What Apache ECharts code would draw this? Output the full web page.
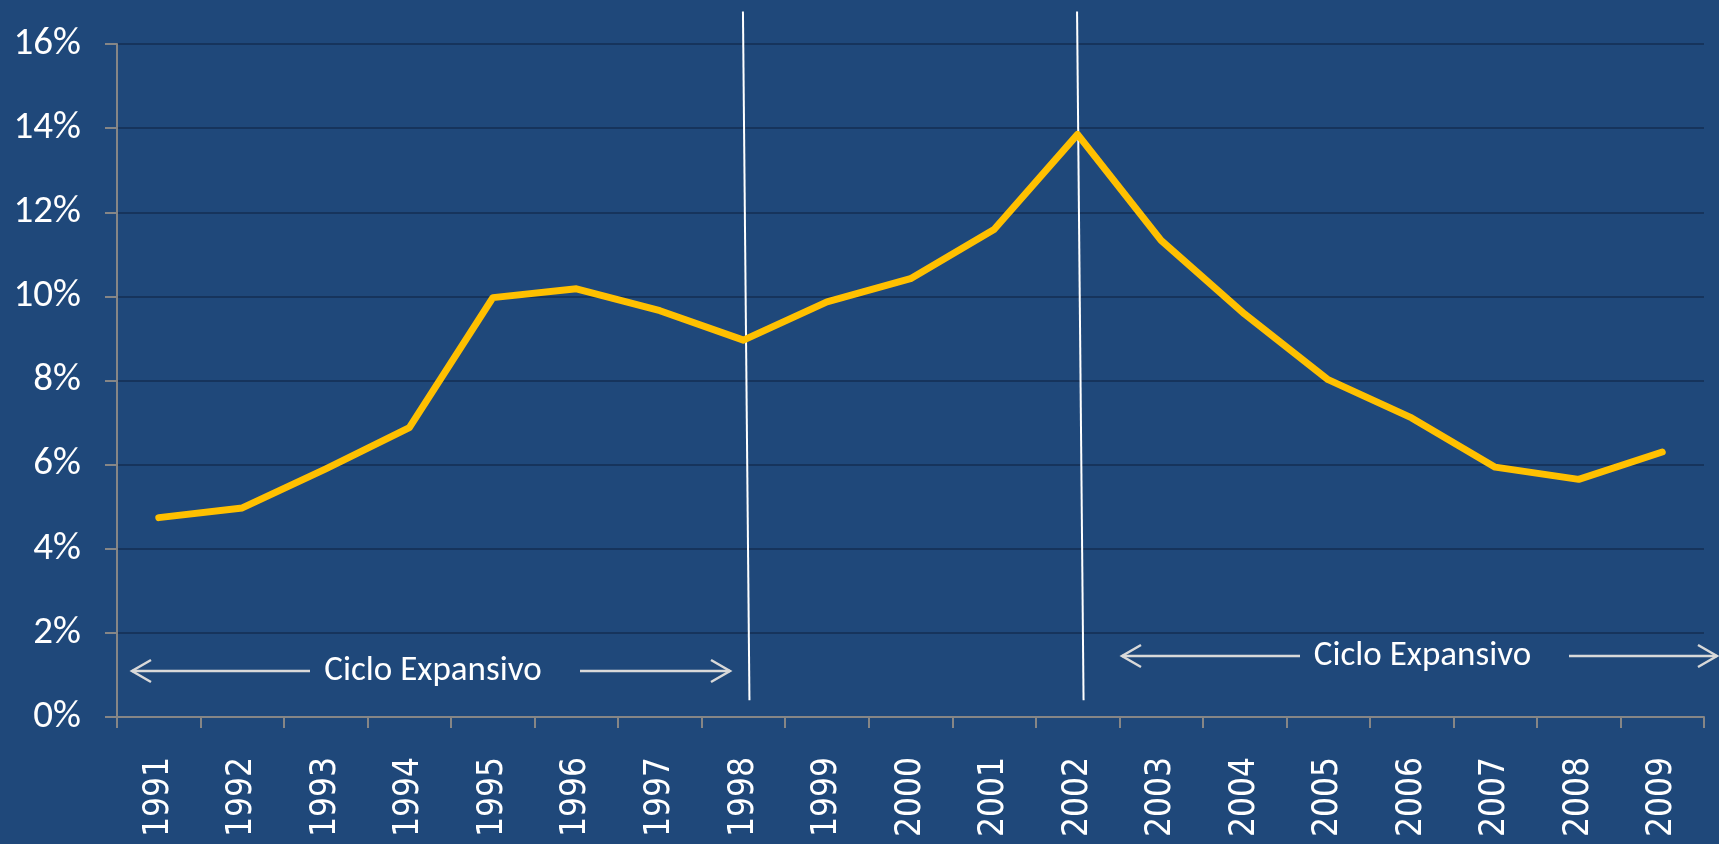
<!DOCTYPE html>
<html>
<head>
<meta charset="utf-8">
<script src="https://cdn.jsdelivr.net/npm/echarts@6/dist/echarts.min.js"></script>
<style>
  html, body { margin: 0; padding: 0; background: #1f487a; }
  #chart { width: 1719px; height: 844px; }
</style>
</head>
<body>
<div id="chart"></div>
<script>
// años y tasa (%)
const years = ['1991', '1992', '1993', '1994', '1995', '1996', '1997', '1998', '1999', '2000',
  '2001', '2002', '2003', '2004', '2005', '2006', '2007', '2008', '2009']
const rate = [4.74, 4.97, 5.9, 6.88, 9.97, 10.18, 9.66, 8.96, 9.87, 10.42,
  11.59, 13.85, 11.33, 9.58, 8.02, 7.11, 5.94, 5.65, 6.3]
// años marcados con línea vertical
const breakYears = ['1998', '2002']
const cycleLabel = 'Ciclo Expansivo'

const chart = echarts.init(document.getElementById('chart'))

const option = {
  backgroundColor: '#1f487a',
  animation: false,
  grid: { left: 117, right: 15, top: 44, bottom: 127 },
  xAxis: {
    type: 'category',
    data: years,
    boundaryGap: true,
    axisLine: { lineStyle: { color: '#868686', width: 2 } },
    axisTick: { show: true, length: 11, lineStyle: { color: '#868686', width: 2 } },
    axisLabel: {
      rotate: 90,
      margin: 40,
      color: '#ffffff',
      fontSize: 35,
      fontFamily: '"DejaVu Sans Condensed", "DejaVu Sans"'
    }
  },
  yAxis: {
    type: 'value',
    min: 0,
    max: 16,
    interval: 2,
    axisLine: { show: true, lineStyle: { color: '#868686', width: 2 } },
    axisTick: { show: true, length: 12, lineStyle: { color: '#868686', width: 2 } },
    axisLabel: {
      margin: 36,
      color: '#ffffff',
      fontSize: 39,
      fontFamily: 'Carlito, "Open Sans"',
      formatter: v => v + '%'
    },
    splitLine: { lineStyle: { color: '#16345c', width: 2 } }
  },
  series: [
    {
      type: 'line',
      data: rate,
      symbol: 'none',
      lineStyle: { color: '#ffc000', width: 7, cap: 'round', join: 'round' }
    }
  ]
}
chart.setOption(option)

// anotaciones: líneas verticales y flechas "Ciclo Expansivo"
const gfx = []
breakYears.forEach(y => {
  const top = chart.convertToPixel({ gridIndex: 0 }, [y, 16.77])
  const bot = chart.convertToPixel({ gridIndex: 0 }, [y, 0.4])
  gfx.push({
    type: 'line',
    shape: { x1: top[0] - 0.5, y1: top[1], x2: bot[0] + 6, y2: bot[1] },
    style: { stroke: '#ffffff', lineWidth: 2 }
  })
})

function arrowGroup (x0, x1, tx0, tx1, y) {
  const st = { stroke: '#d9d9d9', lineWidth: 2.5, fill: null }
  gfx.push({ type: 'line', shape: { x1: x0, y1: y, x2: tx0 - 16, y2: y }, style: st })
  gfx.push({ type: 'line', shape: { x1: tx1 + 40, y1: y, x2: x1, y2: y }, style: st })
  gfx.push({ type: 'polyline', shape: { points: [[x0 + 19, y - 11], [x0, y], [x0 + 19, y + 11]] }, style: st })
  gfx.push({ type: 'polyline', shape: { points: [[x1 - 19, y - 11], [x1, y], [x1 - 19, y + 11]] }, style: st })
  gfx.push({
    type: 'text',
    x: (tx0 + tx1) / 2,
    y: y,
    style: {
      text: cycleLabel,
      fill: '#ffffff',
      fontSize: 35,
      fontFamily: 'Carlito, "Open Sans"',
      align: 'center',
      verticalAlign: 'middle'
    }
  })
}
arrowGroup(132, 730, 326, 540, 671)
arrowGroup(1122, 1717, 1316, 1529, 656)

chart.setOption({ graphic: gfx })
</script>
</body>
</html>
